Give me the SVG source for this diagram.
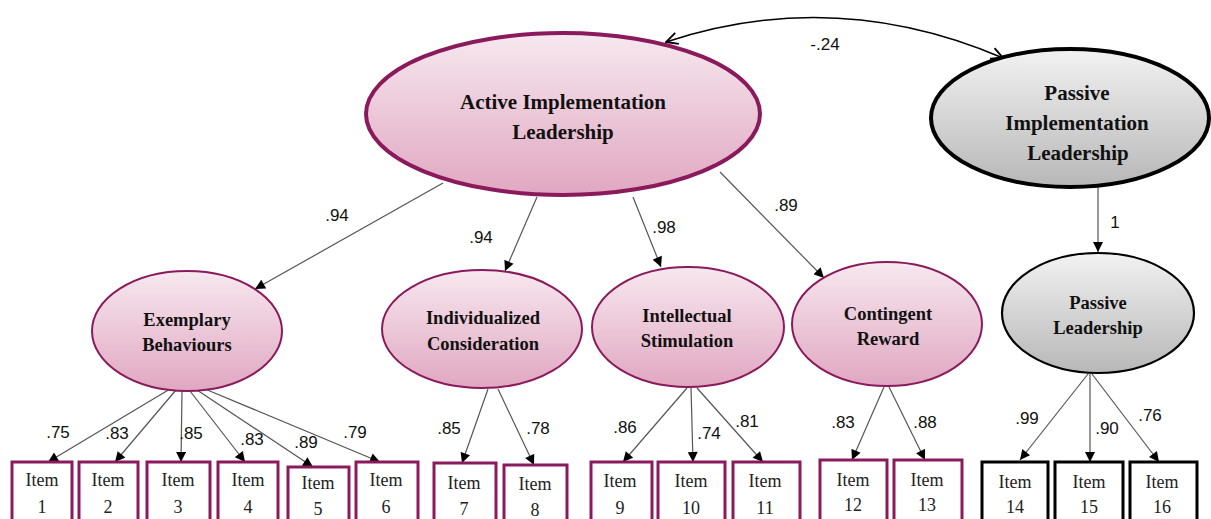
<svg xmlns="http://www.w3.org/2000/svg" width="1211" height="519" viewBox="0 0 1211 519">
  <defs>
    <linearGradient id="pinkFill" x1="0" y1="0" x2="0" y2="1">
      <stop offset="0" stop-color="#f7e8ef"/>
      <stop offset="1" stop-color="#e0a7c1"/>
    </linearGradient>
    <linearGradient id="grayFill" x1="0" y1="0" x2="0" y2="1">
      <stop offset="0" stop-color="#f2f2f2"/>
      <stop offset="1" stop-color="#b7b7b7"/>
    </linearGradient>
    <marker id="arrow" viewBox="0 0 10 10" refX="10" refY="5" markerWidth="11" markerHeight="10" markerUnits="userSpaceOnUse" orient="auto">
      <path d="M0,0 L10,5 L0,10 z" fill="#000"/>
    </marker>
    <marker id="openArrow" viewBox="0 0 12 12" refX="11" refY="6" markerWidth="14" markerHeight="14" markerUnits="userSpaceOnUse" orient="auto">
      <path d="M1,1 L11,6 L1,11" fill="none" stroke="#000" stroke-width="1.6"/>
    </marker>
    <marker id="openArrowStart" viewBox="0 0 12 12" refX="1" refY="6" markerWidth="14" markerHeight="14" markerUnits="userSpaceOnUse" orient="auto">
      <path d="M11,1 L1,6 L11,11" fill="none" stroke="#000" stroke-width="1.6"/>
    </marker>
  </defs>
  <style>
    .lat { fill: url(#pinkFill); stroke: #8b1a5c; stroke-width: 2; }
    .latMain { fill: url(#pinkFill); stroke: #8b1a5c; stroke-width: 4; }
    .latGray { fill: url(#grayFill); stroke: #000; stroke-width: 2.2; }
    .latGrayMain { fill: url(#grayFill); stroke: #000; stroke-width: 4; }
    .box { fill: #fff; stroke: #8b1a5c; stroke-width: 3; }
    .boxBlack { fill: #fff; stroke: #000; stroke-width: 3; }
    .title { font-family: "Liberation Serif", "Times New Roman", serif; font-weight: bold; font-size: 21px; fill: #111; text-anchor: middle; }
    .sub { font-family: "Liberation Serif", "Times New Roman", serif; font-weight: bold; font-size: 18.5px; fill: #111; text-anchor: middle; }
    .item { font-family: "Liberation Serif", "Times New Roman", serif; font-size: 18px; fill: #222; text-anchor: middle; }
    .coef { font-family: "Liberation Sans", Arial, sans-serif; font-size: 17px; fill: #111; text-anchor: middle; }
    .edge { stroke: #555; stroke-width: 1.2; fill: none; marker-end: url(#arrow); }
  </style>

  <!-- connectors -->
  <g id="connectors">
    <path d="M666,42 Q835,-14 1003,58" fill="none" stroke="#000" stroke-width="1.6" marker-start="url(#openArrowStart)" marker-end="url(#openArrow)"/>
    <line class="edge" x1="443" y1="183" x2="255" y2="289"/>
    <line class="edge" x1="537" y1="197" x2="505" y2="271"/>
    <line class="edge" x1="633" y1="197" x2="661" y2="267"/>
    <line class="edge" x1="720" y1="172" x2="824" y2="278"/>
    <line class="edge" x1="1098" y1="188" x2="1098" y2="252"/>

    <line class="edge" x1="170" y1="389" x2="48" y2="462"/>
    <line class="edge" x1="176" y1="390" x2="115" y2="462"/>
    <line class="edge" x1="182" y1="391" x2="181" y2="462"/>
    <line class="edge" x1="190" y1="391" x2="245" y2="462"/>
    <line class="edge" x1="197" y1="390" x2="313" y2="467"/>
    <line class="edge" x1="205" y1="389" x2="380" y2="462"/>

    <line class="edge" x1="488" y1="389" x2="462" y2="463"/>
    <line class="edge" x1="498" y1="389" x2="534" y2="465"/>

    <line class="edge" x1="687" y1="388" x2="623" y2="462"/>
    <line class="edge" x1="691" y1="388" x2="693" y2="462"/>
    <line class="edge" x1="697" y1="388" x2="763" y2="462"/>

    <line class="edge" x1="884" y1="387" x2="852" y2="460"/>
    <line class="edge" x1="889" y1="387" x2="925" y2="460"/>

    <line class="edge" x1="1088" y1="374" x2="1020" y2="460"/>
    <line class="edge" x1="1090" y1="374" x2="1090" y2="462"/>
    <line class="edge" x1="1092" y1="374" x2="1159" y2="462"/>

    <text class="coef" x="825" y="50">-.24</text>
    <text class="coef" x="337" y="221">.94</text>
    <text class="coef" x="481" y="243">.94</text>
    <text class="coef" x="664" y="233">.98</text>
    <text class="coef" x="786" y="211">.89</text>
    <text class="coef" x="1115" y="228">1</text>

    <text class="coef" x="58" y="438">.75</text>
    <text class="coef" x="117" y="439">.83</text>
    <text class="coef" x="191" y="439">.85</text>
    <text class="coef" x="252" y="445">.83</text>
    <text class="coef" x="306" y="448">.89</text>
    <text class="coef" x="355" y="438">.79</text>

    <text class="coef" x="449" y="434">.85</text>
    <text class="coef" x="538" y="434">.78</text>

    <text class="coef" x="625" y="433">.86</text>
    <text class="coef" x="709" y="439">.74</text>
    <text class="coef" x="747" y="427">.81</text>

    <text class="coef" x="843" y="428">.83</text>
    <text class="coef" x="925" y="428">.88</text>

    <text class="coef" x="1027" y="424">.99</text>
    <text class="coef" x="1107" y="434">.90</text>
    <text class="coef" x="1150" y="421">.76</text>
  </g>

  <!-- higher-order factors -->
  <g id="active-implementation-leadership">
    <ellipse class="latMain" cx="563" cy="114" rx="197" ry="81"/>
    <text class="title" x="563" y="109">Active Implementation</text>
    <text class="title" x="563" y="139">Leadership</text>
  </g>
  <g id="passive-implementation-leadership">
    <ellipse class="latGrayMain" cx="1070" cy="118" rx="139" ry="69"/>
    <text class="title" x="1077" y="100">Passive</text>
    <text class="title" x="1077" y="130">Implementation</text>
    <text class="title" x="1078" y="160">Leadership</text>
  </g>

  <!-- first-order factors -->
  <g id="exemplary-behaviours">
    <ellipse class="lat" cx="187" cy="331" rx="95" ry="60"/>
    <text class="sub" x="187" y="326">Exemplary</text>
    <text class="sub" x="187" y="351">Behaviours</text>
  </g>
  <g id="individualized-consideration">
    <ellipse class="lat" cx="482" cy="329" rx="100" ry="59"/>
    <text class="sub" x="483" y="324">Individualized</text>
    <text class="sub" x="483" y="350">Consideration</text>
  </g>
  <g id="intellectual-stimulation">
    <ellipse class="lat" cx="688" cy="327" rx="96" ry="60"/>
    <text class="sub" x="687" y="322">Intellectual</text>
    <text class="sub" x="687" y="347">Stimulation</text>
  </g>
  <g id="contingent-reward">
    <ellipse class="lat" cx="887" cy="324" rx="95" ry="62"/>
    <text class="sub" x="888" y="320">Contingent</text>
    <text class="sub" x="888" y="345">Reward</text>
  </g>
  <g id="passive-leadership">
    <ellipse class="latGray" cx="1098" cy="313" rx="96" ry="60"/>
    <text class="sub" x="1098" y="309">Passive</text>
    <text class="sub" x="1098" y="334">Leadership</text>
  </g>

  <!-- observed items -->
  <g id="item-1"><rect class="box" x="12" y="462" width="60" height="64"/><text class="item" x="42" y="486">Item</text><text class="item" x="42" y="513">1</text></g>
  <g id="item-2"><rect class="box" x="79" y="462" width="59" height="64"/><text class="item" x="108" y="486">Item</text><text class="item" x="108" y="513">2</text></g>
  <g id="item-3"><rect class="box" x="147" y="462" width="63" height="64"/><text class="item" x="178" y="486">Item</text><text class="item" x="178" y="513">3</text></g>
  <g id="item-4"><rect class="box" x="218" y="462" width="60" height="64"/><text class="item" x="248" y="486">Item</text><text class="item" x="248" y="513">4</text></g>
  <g id="item-5"><rect class="box" x="288" y="467" width="61" height="64"/><text class="item" x="318" y="489">Item</text><text class="item" x="318" y="515">5</text></g>
  <g id="item-6"><rect class="box" x="356" y="462" width="62" height="64"/><text class="item" x="386" y="486">Item</text><text class="item" x="386" y="513">6</text></g>
  <g id="item-7"><rect class="box" x="434" y="463" width="62" height="64"/><text class="item" x="464" y="489">Item</text><text class="item" x="464" y="515">7</text></g>
  <g id="item-8"><rect class="box" x="504" y="465" width="63" height="64"/><text class="item" x="535" y="490">Item</text><text class="item" x="535" y="516">8</text></g>
  <g id="item-9"><rect class="box" x="591" y="462" width="61" height="64"/><text class="item" x="620" y="487">Item</text><text class="item" x="620" y="514">9</text></g>
  <g id="item-10"><rect class="box" x="658" y="462" width="67" height="64"/><text class="item" x="691" y="487">Item</text><text class="item" x="691" y="514">10</text></g>
  <g id="item-11"><rect class="box" x="733" y="462" width="67" height="64"/><text class="item" x="765" y="487">Item</text><text class="item" x="765" y="514">11</text></g>
  <g id="item-12"><rect class="box" x="820" y="460" width="67" height="64"/><text class="item" x="853" y="486">Item</text><text class="item" x="853" y="511">12</text></g>
  <g id="item-13"><rect class="box" x="894" y="460" width="68" height="64"/><text class="item" x="927" y="486">Item</text><text class="item" x="927" y="511">13</text></g>
  <g id="item-14"><rect class="boxBlack" x="982" y="462" width="66" height="64"/><text class="item" x="1015" y="488">Item</text><text class="item" x="1015" y="513">14</text></g>
  <g id="item-15"><rect class="boxBlack" x="1055" y="462" width="68" height="64"/><text class="item" x="1089" y="488">Item</text><text class="item" x="1089" y="513">15</text></g>
  <g id="item-16"><rect class="boxBlack" x="1130" y="462" width="67" height="64"/><text class="item" x="1162" y="488">Item</text><text class="item" x="1162" y="513">16</text></g>
</svg>
